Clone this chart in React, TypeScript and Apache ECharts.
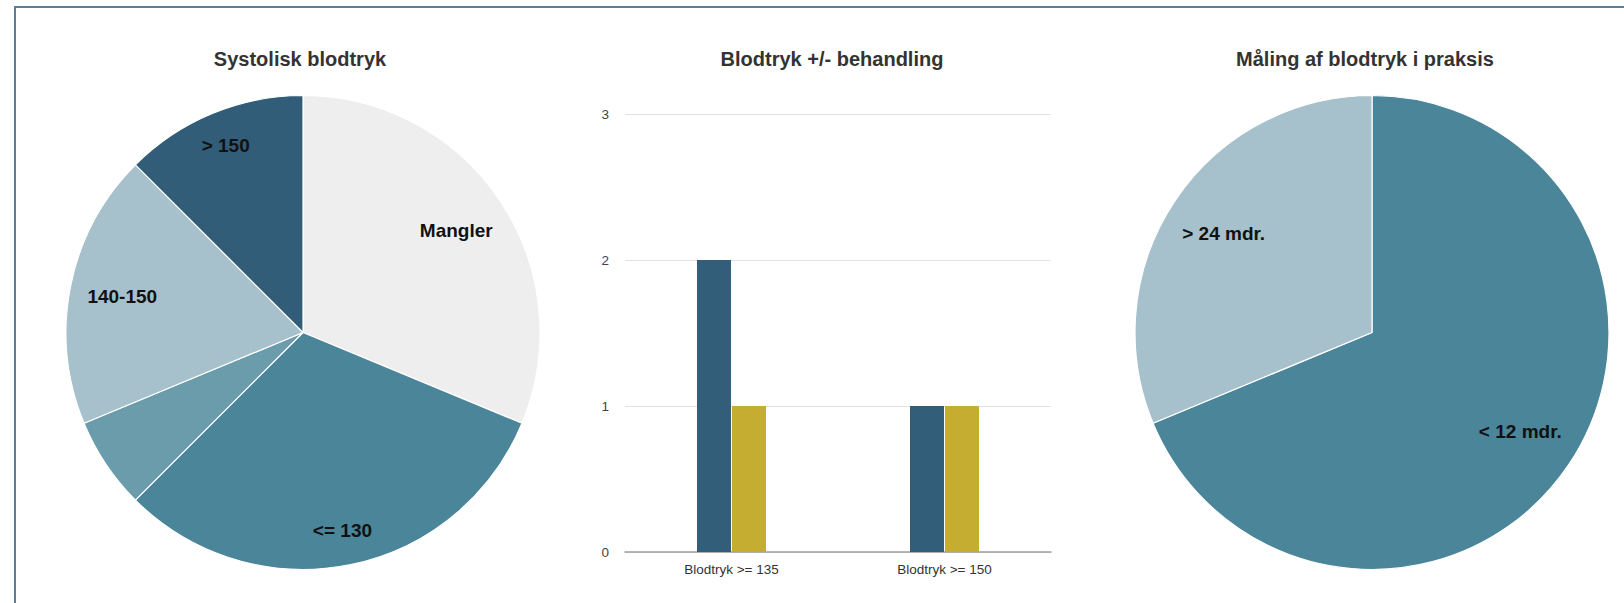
import React, { useEffect, useRef } from "react";
import * as echarts from "echarts";

// ---- Data ----
const pie1Title = "Systolisk blodtryk";
const pie1Names = ["Mangler", "<= 130", "130-140", "140-150", "> 150"];
const pie1Values = [5, 5, 1, 3, 2];

const barTitle = "Blodtryk +/- behandling";
const barCategories = ["Blodtryk >= 135", "Blodtryk >= 150"];
const barSeriesNames = ["+ behandling", "- behandling"];
const barSeriesA = [2, 1];
const barSeriesB = [1, 1];
const barYTicks = [0, 1, 2, 3];

const pie3Title = "Måling af blodtryk i praksis";
const pie3Names = ["< 12 mdr.", "> 24 mdr."];
const pie3Values = [11, 5];

// ---- Styles ----
const FONT = '"Liberation Sans", Arial, sans-serif';
const pie1Colors = ["#eeeeee", "#4a8599", "#6a9cab", "#a6c1cb", "#315d78"];
const pie3Colors = ["#4a8599", "#a6c1cb"];
const barColors = ["#325e79", "#c5ad31"];
const R = 237;

function basePie(center: number[], names: string[], values: number[], colors: string[]) {
  return {
    type: "pie",
    center,
    radius: [0, R],
    startAngle: 90,
    clockwise: true,
    silent: true,
    label: { show: false },
    labelLine: { show: false },
    emphasis: { disabled: true },
    itemStyle: { borderColor: "#ffffff", borderWidth: 1.2 },
    data: names.map((n, i) => ({ name: n, value: values[i], itemStyle: { color: colors[i] } })),
  };
}

function labelPie(center: number[], inner: number, names: string[], values: number[], show: string[]) {
  return {
    type: "pie",
    center,
    radius: [inner, R],
    startAngle: 90,
    clockwise: true,
    silent: true,
    z: 5,
    itemStyle: { color: "rgba(0,0,0,0)", borderWidth: 0 },
    label: {
      show: true,
      position: "inside",
      formatter: "{b}",
      color: "#111111",
      fontWeight: "bold",
      fontSize: 19,
      fontFamily: FONT,
    },
    labelLine: { show: false },
    emphasis: { disabled: true },
    data: names.map((n, i) => ({ name: n, value: values[i], label: { show: show.includes(n) } })),
  };
}

export default function App() {
  const ref = useRef<HTMLDivElement>(null);
  useEffect(() => {
    if (!ref.current) return;
    const chart = echarts.init(ref.current, null, { renderer: "svg" });
    const c1 = [303, 332.5];
    const c3 = [1372, 332.5];
    const titleStyle = { fontSize: 20, fontWeight: "bold", color: "#333333", fontFamily: FONT };
    chart.setOption({
      animation: false,
      backgroundColor: "#ffffff",
      title: [
        { text: pie1Title, left: 300, top: 49, textAlign: "center", padding: 0, textStyle: titleStyle },
        { text: barTitle, left: 832, top: 49, textAlign: "center", padding: 0, textStyle: titleStyle },
        { text: pie3Title, left: 1365, top: 49, textAlign: "center", padding: 0, textStyle: titleStyle },
      ],
      grid: { left: 625, right: 573, top: 114, bottom: 51, containLabel: false },
      xAxis: {
        type: "category",
        data: barCategories,
        axisLine: { show: true, lineStyle: { color: "#9e9e9e", width: 1.5 } },
        axisTick: { show: false },
        axisLabel: { color: "#333333", fontSize: 13.5, fontFamily: FONT, margin: 10 },
      },
      yAxis: {
        type: "value",
        min: barYTicks[0],
        max: barYTicks[barYTicks.length - 1],
        interval: 1,
        axisLine: { show: false },
        axisTick: { show: false },
        axisLabel: { color: "#444444", fontSize: 13.5, fontFamily: FONT, margin: 16 },
        splitLine: { lineStyle: { color: "#e2e2e2", width: 1 } },
      },
      series: [
        {
          type: "bar",
          name: barSeriesNames[0],
          data: barSeriesA,
          barWidth: 34,
          barGap: "3%",
          itemStyle: { color: barColors[0] },
          silent: true,
        },
        {
          type: "bar",
          name: barSeriesNames[1],
          data: barSeriesB,
          barWidth: 34,
          barGap: "3%",
          itemStyle: { color: barColors[1] },
          silent: true,
        },
        basePie(c1, pie1Names, pie1Values, pie1Colors),
        labelPie(c1, 0.53 * R, pie1Names, pie1Values, ["Mangler", "140-150"]),
        labelPie(c1, 0.68 * R, pie1Names, pie1Values, ["<= 130", "> 150"]),
        basePie(c3, pie3Names, pie3Values, pie3Colors),
        labelPie(c3, 0.48 * R, pie3Names, pie3Values, pie3Names),
      ],
      graphic: [
        {
          type: "polyline",
          silent: true,
          shape: { points: [[15, 603], [15, 7], [1624, 7]] },
          style: { stroke: "#5b7f96", lineWidth: 2, fill: "none" },
        },
      ],
    });
    return () => chart.dispose();
  }, []);
  return (
    <div
      ref={ref}
      style={{ position: "fixed", left: 0, top: 0, width: 1624, height: 603, background: "#ffffff" }}
    />
  );
}
